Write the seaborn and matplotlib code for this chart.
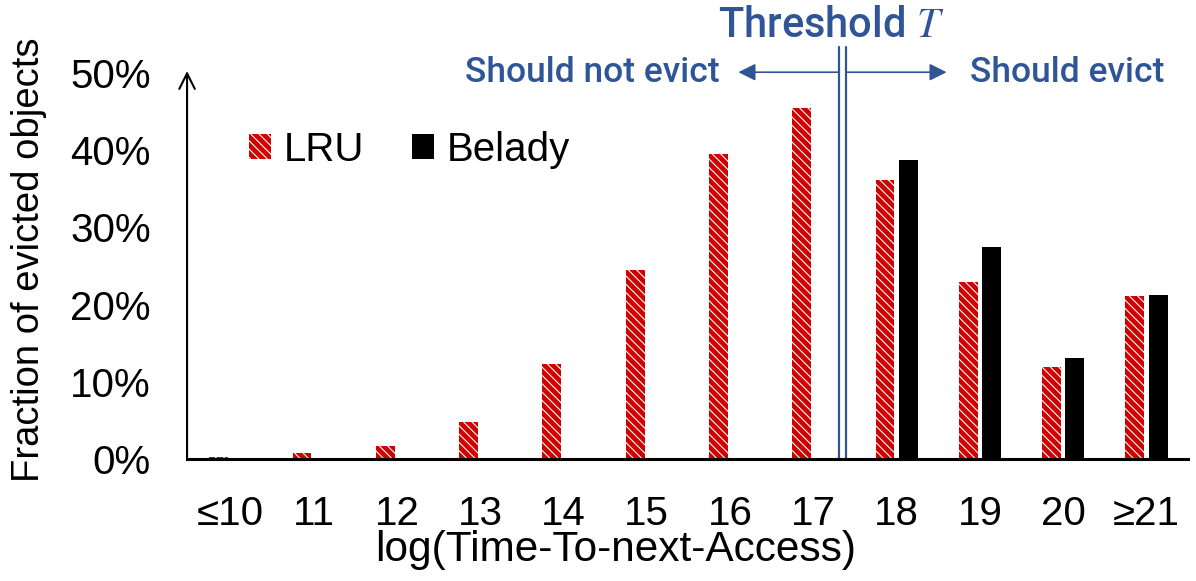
import numpy as np
import pandas as pd
import matplotlib.pyplot as plt
import matplotlib.patches as mpatches
import seaborn as sns

# buckets of log(time-to-next-access) and the share of evicted objects (%)
categories = ['≤10', '11', '12', '13', '14', '15', '16', '17', '18', '19', '20', '≥21']
lru = [0.25, 0.8, 1.7, 4.8, 12.3, 24.5, 39.5, 45.4, 36.1, 22.9, 11.9, 21.1]
belady = [0, 0, 0, 0, 0, 0, 0, 0, 38.7, 27.4, 13.1, 21.2]
policies = ['LRU', 'Belady']
yticks = [0, 10, 20, 30, 40, 50]

red = '#D00000'
blue = '#2F5597'
hatch = '\\\\\\\\'

sns.set_theme(style='white')
plt.rcParams['font.family'] = ['Liberation Sans', 'DejaVu Sans']
plt.rcParams['mathtext.fontset'] = 'stix'
plt.rcParams['hatch.linewidth'] = 0.8
plt.rcParams['text.color'] = 'black'
plt.rcParams['axes.labelcolor'] = 'black'

df = pd.DataFrame({
    'bucket': categories * 2,
    'policy': [policies[0]] * len(lru) + [policies[1]] * len(belady),
    'fraction': lru + belady,
})

fig = plt.figure(figsize=(11.96, 5.81), dpi=100)
ax = fig.add_axes([0.1564, 0.21, 0.837, 0.6644])
sns.barplot(data=df, x='bucket', y='fraction', hue='policy', hue_order=policies,
            palette={'LRU': red, 'Belady': 'black'}, width=0.56, gap=0.19,
            saturation=1, legend=False, ax=ax)

for bar in ax.containers[0]:
    bar.set_hatch(hatch)
    bar.set_edgecolor('white')
    bar.set_linewidth(0)
for bar in ax.containers[1]:
    bar.set_linewidth(0)

ax.set_xlim(-0.52, 11.5)
ax.set_ylim(0, 50)
ax.set_yticks(yticks)
ax.set_yticklabels([f'{v}%' for v in yticks])
ax.tick_params(axis='both', length=0, labelsize=29, colors='black')
ax.tick_params(axis='y', pad=26)
ax.tick_params(axis='x', pad=26)
ax.set_xlabel('log(Time-To-next-Access)', fontsize=30.5)
ax.xaxis.set_label_coords(0.428, -0.185)
ax.set_ylabel('Fraction of evicted objects', fontsize=27.5)
ax.yaxis.set_label_coords(-0.14, 0.515)

for side in ['top', 'right', 'left']:
    ax.spines[side].set_visible(False)
ax.spines['bottom'].set_color('black')
ax.spines['bottom'].set_linewidth(2.2)

# y axis with arrow head
ax.annotate('', xy=(0, 1.005), xytext=(0, 0), xycoords='axes fraction',
            arrowprops=dict(arrowstyle='->', lw=1.5, color='black',
                            mutation_scale=28, shrinkA=0, shrinkB=0))

# threshold double line
for x in [7.31, 7.39]:
    ax.plot([x, x], [0, 53.4], color=blue, lw=1.6, clip_on=False)

ax.annotate('', xy=(6.1, 50.1), xytext=(7.31, 50.1),
            arrowprops=dict(arrowstyle='-|>', lw=1.2, color=blue,
                            mutation_scale=26, shrinkA=0, shrinkB=0),
            annotation_clip=False)
ax.annotate('', xy=(8.6, 50.1), xytext=(7.39, 50.1),
            arrowprops=dict(arrowstyle='-|>', lw=1.2, color=blue,
                            mutation_scale=26, shrinkA=0, shrinkB=0),
            annotation_clip=False)

label_font = dict(family=['Roboto', 'DejaVu Sans'], fontweight='medium', color=blue)
ax.text(5.88, 50.1, 'Should not evict', ha='right', va='center', fontsize=25.5,
        clip_on=False, **label_font)
ax.text(8.88, 50.1, 'Should evict', ha='left', va='center', fontsize=25.5,
        clip_on=False, **label_font)
ax.text(7.21, 56.2, 'Threshold $T$', ha='center', va='center', fontsize=30,
        clip_on=False, **label_font)

handles = [
    mpatches.Patch(facecolor=red, edgecolor='white', hatch=hatch, lw=0, label='LRU'),
    mpatches.Patch(facecolor='black', lw=0, label='Belady'),
]
ax.legend(handles=handles, loc='upper left', bbox_to_anchor=(0.062, 0.85), ncol=2,
          frameon=False, fontsize=29, handlelength=0.55, handleheight=0.55,
          handletextpad=0.3, columnspacing=1.2, borderpad=0, borderaxespad=0)

fig.savefig('out.png', dpi=100)
